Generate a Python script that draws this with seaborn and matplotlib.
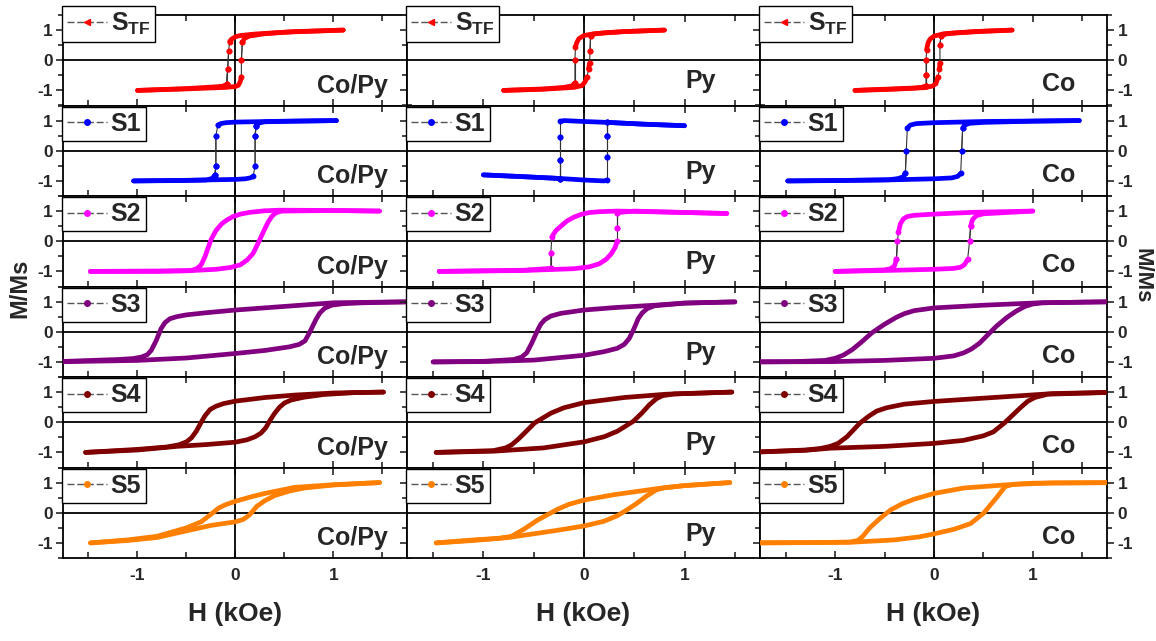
import numpy as np
import pandas as pd
import matplotlib
matplotlib.use("Agg")
import matplotlib.pyplot as plt
from matplotlib.lines import Line2D
from matplotlib.ticker import MultipleLocator
import seaborn as sns

# ---------------- data (H in kOe, M/Ms) ----------------
samples = ["STF", "S1", "S2", "S3", "S4", "S5"]
legend_labels = [r"$\mathbf{S_{TF}}$", "S1", "S2", "S3", "S4", "S5"]
layers = ["Co/Py", "Py", "Co"]
sample_colors = ["#FF0000", "#0000FF", "#FF00FF", "#800080", "#800000", "#FF8000"]
x_ticks = [-1, 0, 1]
x_tick_labels = ["-1", "0", "1"]
y_ticks = [-1, 0, 1]
y_tick_labels = ["-1", "0", "1"]

# descending (upper) branches: from +H to -H
STF_DESC = {
    "Co/Py": [(1.1, 1.0), (0.5, 0.93), (0.2, 0.87), (0.05, 0.82), (0.0, 0.78), (-0.04, 0.7),
              (-0.06, 0.62), (-0.07, 0.3), (-0.08, -0.3), (-0.09, -0.8), (-0.13, -0.86),
              (-0.2, -0.88), (-0.5, -0.94), (-1.0, -1.0)],
    "Py": [(0.8, 1.0), (0.4, 0.95), (0.1, 0.88), (0.0, 0.82), (-0.05, 0.72), (-0.07, 0.6),
           (-0.085, 0.45), (-0.09, 0.0), (-0.09, -0.75), (-0.12, -0.85), (-0.2, -0.9),
           (-0.4, -0.95), (-0.8, -1.0)],
    "Co": [(0.79, 1.0), (0.4, 0.95), (0.1, 0.88), (0.0, 0.8), (-0.04, 0.7), (-0.06, 0.58),
           (-0.075, 0.35), (-0.08, 0.0), (-0.08, -0.5), (-0.08, -0.85), (-0.13, -0.9),
           (-0.2, -0.92), (-0.5, -0.96), (-0.8, -1.0)],
}
STF_ASC = {
    "Co/Py": [(-1.0, -1.0), (-0.5, -0.95), (-0.1, -0.9), (0.0, -0.87), (0.03, -0.83), (0.05, -0.7),
              (0.06, -0.55), (0.06, 0.0), (0.07, 0.6), (0.09, 0.72), (0.14, 0.8), (0.3, 0.88),
              (0.6, 0.95), (1.1, 1.0)],
    "Py": [(-0.8, -1.0), (-0.4, -0.96), (-0.1, -0.9), (-0.02, -0.84), (0.01, -0.72), (0.03, -0.55),
           (0.045, -0.3), (0.055, -0.1), (0.06, 0.3), (0.065, 0.8), (0.1, 0.87), (0.2, 0.91),
           (0.4, 0.95), (0.8, 1.0)],
    "Co": [(-0.8, -1.0), (-0.4, -0.96), (-0.1, -0.91), (-0.02, -0.86), (0.02, -0.78), (0.04, -0.55),
           (0.055, -0.3), (0.06, -0.1), (0.06, 0.5), (0.07, 0.8), (0.12, 0.87), (0.2, 0.9),
           (0.5, 0.96), (0.79, 1.0)],
}
S1_DESC = {
    "Co/Py": [(1.03, 1.0), (0.5, 0.98), (0.0, 0.95), (-0.1, 0.93), (-0.15, 0.9), (-0.18, 0.85),
              (-0.2, 0.5), (-0.2, -0.5), (-0.21, -0.82), (-0.24, -0.92), (-0.3, -0.97),
              (-0.6, -0.99), (-1.04, -1.0)],
    "Py": [(1.0, 0.83), (0.6, 0.88), (0.23, 0.94), (0.0, 0.97), (-0.2, 1.0), (-0.235, 0.97),
           (-0.235, 0.45), (-0.235, -0.3), (-0.235, -0.92), (-0.6, -0.86), (-1.0, -0.8)],
    "Co": [(1.47, 1.0), (0.5, 0.97), (0.0, 0.93), (-0.18, 0.9), (-0.24, 0.85), (-0.27, 0.75),
           (-0.28, 0.0), (-0.29, -0.75), (-0.31, -0.86), (-0.36, -0.92), (-0.45, -0.96),
           (-1.0, -0.99), (-1.48, -1.0)],
}
S1_ASC = {
    "Co/Py": [(-1.04, -1.0), (-0.5, -0.98), (0.0, -0.95), (0.1, -0.93), (0.15, -0.9), (0.18, -0.85),
              (0.2, -0.5), (0.2, 0.5), (0.21, 0.82), (0.24, 0.92), (0.3, 0.96), (0.6, 0.98),
              (1.03, 1.0)],
    "Py": [(-1.0, -0.8), (-0.6, -0.86), (-0.235, -0.92), (0.0, -0.97), (0.2, -1.0), (0.23, -0.97),
           (0.23, -0.2), (0.23, 0.5), (0.23, 0.94), (0.6, 0.88), (1.0, 0.83)],
    "Co": [(-1.48, -1.0), (-0.5, -0.97), (0.0, -0.93), (0.18, -0.9), (0.24, -0.85), (0.27, -0.75),
           (0.28, 0.0), (0.29, 0.75), (0.31, 0.85), (0.36, 0.91), (0.5, 0.94), (1.0, 0.98),
           (1.47, 1.0)],
}
S2_DESC = {
    "Co/Py": [(1.47, 1.0), (1.0, 1.02), (0.45, 1.03), (0.3, 1.01), (0.15, 0.96), (0.05, 0.9),
              (-0.03, 0.81), (-0.09, 0.7), (-0.14, 0.58), (-0.2, 0.35), (-0.25, 0.05),
              (-0.31, -0.5), (-0.35, -0.78), (-0.39, -0.9), (-0.45, -0.97), (-0.8, -1.0),
              (-1.48, -1.0)],
    "Py": [(1.42, 0.92), (0.8, 0.97), (0.33, 1.0), (0.15, 0.98), (0.05, 0.95), (-0.03, 0.89),
           (-0.1, 0.8), (-0.17, 0.67), (-0.23, 0.5), (-0.28, 0.35), (-0.32, 0.15), (-0.33, -0.4),
           (-0.33, -0.9), (-0.6, -0.96), (-1.44, -1.0)],
    "Co": [(1.0, 1.0), (0.4, 0.96), (0.0, 0.9), (-0.2, 0.86), (-0.27, 0.82), (-0.31, 0.74),
           (-0.34, 0.58), (-0.36, 0.3), (-0.37, 0.0), (-0.38, -0.6), (-0.4, -0.82),
           (-0.44, -0.91), (-0.5, -0.95), (-1.0, -1.0)],
}
S2_ASC = {
    "Co/Py": [(-1.48, -1.0), (-0.5, -0.98), (-0.2, -0.93), (-0.05, -0.87), (0.05, -0.78),
              (0.12, -0.62), (0.18, -0.4), (0.24, 0.0), (0.29, 0.35), (0.33, 0.62), (0.37, 0.82),
              (0.41, 0.94), (0.47, 1.0), (1.0, 1.02), (1.47, 1.0)],
    "Py": [(-1.44, -1.0), (-0.6, -0.97), (-0.1, -0.91), (0.05, -0.85), (0.15, -0.75), (0.22, -0.6),
           (0.27, -0.42), (0.31, -0.2), (0.33, 0.0), (0.33, 0.45), (0.33, 0.95), (0.5, 1.0),
           (0.8, 0.97), (1.42, 0.92)],
    "Co": [(-1.0, -1.0), (-0.5, -0.97), (0.0, -0.93), (0.2, -0.9), (0.27, -0.86), (0.31, -0.77),
           (0.34, -0.6), (0.36, 0.0), (0.37, 0.5), (0.39, 0.72), (0.43, 0.85), (0.5, 0.91),
           (1.0, 1.0)],
}
S3_DESC = {
    "Co/Py": [(1.9, 1.0), (1.0, 0.96), (0.5, 0.84), (0.0, 0.72), (-0.3, 0.63), (-0.5, 0.56),
              (-0.6, 0.5), (-0.67, 0.43), (-0.72, 0.3), (-0.76, 0.1), (-0.81, -0.3),
              (-0.86, -0.62), (-0.9, -0.76), (-0.96, -0.84), (-1.05, -0.89), (-1.2, -0.92),
              (-1.9, -1.0)],
    "Py": [(1.5, 0.99), (1.0, 0.95), (0.7, 0.88), (0.3, 0.8), (0.0, 0.72), (-0.23, 0.61),
           (-0.33, 0.52), (-0.39, 0.4), (-0.43, 0.25), (-0.46, 0.06), (-0.52, -0.38),
           (-0.57, -0.7), (-0.62, -0.84), (-0.7, -0.92), (-1.0, -0.98), (-1.5, -1.0)],
    "Co": [(1.9, 1.0), (1.07, 0.96), (0.5, 0.88), (0.0, 0.79), (-0.2, 0.7), (-0.3, 0.6),
           (-0.38, 0.48), (-0.5, 0.25), (-0.63, -0.04), (-0.74, -0.36), (-0.83, -0.6),
           (-0.92, -0.78), (-1.0, -0.88), (-1.1, -0.95), (-1.4, -0.99), (-1.9, -1.0)],
}
S3_ASC = {
    "Co/Py": [(-1.9, -1.0), (-1.0, -0.95), (-0.5, -0.87), (0.0, -0.72), (0.3, -0.62), (0.55, -0.5),
              (0.65, -0.42), (0.71, -0.3), (0.76, 0.0), (0.82, 0.4), (0.86, 0.62), (0.91, 0.78),
              (0.98, 0.88), (1.1, 0.93), (1.3, 0.96), (1.9, 1.0)],
    "Py": [(-1.5, -1.0), (-1.0, -0.99), (-0.5, -0.94), (0.0, -0.78), (0.2, -0.66), (0.33, -0.55),
           (0.4, -0.42), (0.45, -0.22), (0.49, 0.05), (0.54, 0.44), (0.58, 0.63), (0.63, 0.77),
           (0.7, 0.86), (1.0, 0.95), (1.5, 0.99)],
    "Co": [(-1.9, -1.0), (-1.03, -0.99), (-0.5, -0.95), (0.0, -0.88), (0.2, -0.8), (0.3, -0.7),
           (0.38, -0.57), (0.46, -0.38), (0.63, 0.18), (0.74, 0.48), (0.83, 0.68), (0.92, 0.84),
           (1.0, 0.92), (1.1, 0.96), (1.9, 1.0)],
}
S4_DESC = {
    "Co/Py": [(1.51, 1.0), (1.0, 0.97), (0.6, 0.9), (0.3, 0.82), (0.0, 0.7), (-0.12, 0.62),
              (-0.2, 0.53), (-0.26, 0.42), (-0.31, 0.22), (-0.35, 0.0), (-0.4, -0.3),
              (-0.45, -0.52), (-0.5, -0.65), (-0.58, -0.75), (-0.7, -0.82), (-1.0, -0.9),
              (-1.53, -1.0)],
    "Py": [(1.47, 1.0), (0.82, 0.93), (0.4, 0.82), (0.0, 0.65), (-0.2, 0.48), (-0.33, 0.3),
           (-0.49, -0.02), (-0.58, -0.32), (-0.65, -0.55), (-0.72, -0.75), (-0.78, -0.85),
           (-0.9, -0.94), (-1.47, -1.0)],
    "Co": [(1.9, 1.0), (1.2, 0.95), (0.6, 0.82), (0.0, 0.69), (-0.3, 0.6), (-0.48, 0.48),
           (-0.58, 0.37), (-0.66, 0.2), (-0.75, -0.03), (-0.88, -0.48), (-0.97, -0.7),
           (-1.05, -0.8), (-1.15, -0.87), (-1.3, -0.92), (-1.9, -1.0)],
}
S4_ASC = {
    "Co/Py": [(-1.53, -1.0), (-1.0, -0.92), (-0.6, -0.8), (-0.3, -0.74), (0.0, -0.66), (0.12, -0.58),
              (0.2, -0.48), (0.26, -0.36), (0.31, -0.18), (0.35, 0.05), (0.4, 0.3), (0.45, 0.5),
              (0.5, 0.64), (0.57, 0.74), (0.7, 0.83), (0.9, 0.92), (1.2, 0.98), (1.51, 1.0)],
    "Py": [(-1.47, -1.0), (-0.9, -0.96), (-0.4, -0.85), (0.0, -0.65), (0.2, -0.48), (0.33, -0.3),
           (0.49, 0.03), (0.58, 0.32), (0.65, 0.58), (0.72, 0.78), (0.78, 0.88), (0.9, 0.94),
           (1.47, 1.0)],
    "Co": [(-1.9, -1.0), (-1.3, -0.93), (-1.05, -0.86), (-0.5, -0.8), (0.0, -0.7), (0.3, -0.6),
           (0.5, -0.45), (0.6, -0.32), (0.71, -0.03), (0.8, 0.25), (0.88, 0.5), (0.95, 0.7),
           (1.02, 0.82), (1.15, 0.93), (1.9, 1.0)],
}
S5_DESC = {
    "Co/Py": [(1.47, 1.0), (1.0, 0.93), (0.6, 0.84), (0.3, 0.64), (0.15, 0.52), (0.0, 0.38),
              (-0.1, 0.27), (-0.17, 0.16), (-0.25, -0.05), (-0.35, -0.3), (-0.5, -0.5),
              (-0.8, -0.78), (-1.1, -0.9), (-1.48, -1.0)],
    "Py": [(1.45, 1.0), (1.0, 0.9), (0.75, 0.81), (0.3, 0.6), (0.0, 0.42), (-0.15, 0.28),
           (-0.26, 0.12), (-0.36, -0.06), (-0.46, -0.24), (-0.6, -0.55), (-0.72, -0.78),
           (-0.85, -0.85), (-1.1, -0.9), (-1.47, -1.0)],
    "Co": [(1.9, 1.0), (1.0, 0.98), (0.75, 0.93), (0.3, 0.82), (0.0, 0.64), (-0.2, 0.45),
           (-0.32, 0.3), (-0.44, 0.09), (-0.55, -0.2), (-0.65, -0.5), (-0.72, -0.78),
           (-0.77, -0.92), (-0.85, -0.97), (-1.2, -0.99), (-1.9, -1.0)],
}
S5_ASC = {
    "Co/Py": [(-1.48, -1.0), (-1.1, -0.92), (-0.8, -0.82), (-0.5, -0.6), (-0.25, -0.42), (0.0, -0.3),
              (0.08, -0.22), (0.14, -0.08), (0.22, 0.22), (0.3, 0.4), (0.4, 0.57), (0.55, 0.72),
              (0.7, 0.82), (1.0, 0.92), (1.47, 1.0)],
    "Py": [(-1.47, -1.0), (-1.1, -0.92), (-0.75, -0.82), (-0.3, -0.6), (0.0, -0.44), (0.2, -0.28),
           (0.33, -0.1), (0.42, 0.08), (0.52, 0.3), (0.62, 0.55), (0.72, 0.76), (0.8, 0.83),
           (1.0, 0.9), (1.45, 1.0)],
    "Co": [(-1.9, -1.0), (-0.85, -0.98), (-0.4, -0.9), (-0.15, -0.8), (0.0, -0.7), (0.2, -0.55),
           (0.37, -0.36), (0.5, -0.02), (0.64, 0.53), (0.72, 0.87), (0.8, 0.94), (1.2, 0.99),
           (1.9, 1.0)],
}
DESC = [STF_DESC, S1_DESC, S2_DESC, S3_DESC, S4_DESC, S5_DESC]
ASC = [STF_ASC, S1_ASC, S2_ASC, S3_ASC, S4_ASC, S5_ASC]

# ---------------- style ----------------
sns.set_theme(style="ticks")
plt.rcParams["font.family"] = ["Liberation Sans", "DejaVu Sans"]
plt.rcParams["font.weight"] = "bold"
plt.rcParams["axes.unicode_minus"] = False
plt.rcParams["mathtext.fontset"] = "custom"
plt.rcParams["mathtext.bf"] = "Liberation Sans:bold"
plt.rcParams["mathtext.rm"] = "Liberation Sans:bold"

fig = plt.figure(figsize=(11.56, 6.41), dpi=100)
gs = fig.add_gridspec(6, 3, left=63 / 1156, right=1107 / 1156, top=1 - 15 / 641, bottom=1 - 558 / 641,
                      wspace=0, hspace=0, width_ratios=[344, 353, 347])

XLIM = (-1.76, 1.75)
label_x = [0.945, 0.875, 0.908]
label_y = [0.14, 0.19, 0.16]


def draw_branch(ax, pts, color):
    df = pd.DataFrame(pts, columns=["H", "M"])
    h = df["H"].to_numpy()
    m = df["M"].to_numpy()
    dh = np.abs(np.diff(h))
    dm = np.abs(np.diff(m))
    jump = (dm > 0.25) & (dm > 15 * dh)
    start = 0
    for i in range(len(jump) + 1):
        if i == len(jump) or jump[i]:
            seg = df.iloc[start:i + 1]
            if len(seg) > 1:
                sns.lineplot(data=seg, x="H", y="M", sort=False, estimator=None, color=color,
                             lw=3.4, ax=ax, legend=False, solid_capstyle="round",
                             solid_joinstyle="round", zorder=3)
            start = i + 1
            if i < len(jump):
                j0 = i
                j1 = i + 1
                while j1 < len(jump) and jump[j1]:
                    j1 += 1
                seg = df.iloc[j0:j1 + 1]
                sns.lineplot(data=seg, x="H", y="M", sort=False, estimator=None, color="#333333",
                             lw=0.8, ax=ax, legend=False, zorder=3)
                ax.plot(seg["H"], seg["M"], ls="none", marker="o", ms=3.2, color=color, zorder=4)


for r in range(6):
    for c in range(3):
        ax = fig.add_subplot(gs[r, c])
        layer = layers[c]
        color = sample_colors[r]
        ax.axhline(0, color="black", lw=1.3, zorder=2)
        ax.axvline(0, color="black", lw=1.3, zorder=2)
        draw_branch(ax, DESC[r][layer], color)
        draw_branch(ax, ASC[r][layer], color)

        ax.set_xlim(*XLIM)
        ax.set_ylim(-1.5, 1.5)
        ax.set_xticks(x_ticks)
        ax.xaxis.set_minor_locator(MultipleLocator(0.5))
        ax.set_yticks(y_ticks)
        ax.yaxis.set_minor_locator(MultipleLocator(0.5))
        ax.tick_params(axis="x", which="both", direction="in", top=True, bottom=True,
                       width=1.2, labelsize=12.5, pad=7)
        ax.tick_params(axis="x", which="major", length=5)
        ax.tick_params(axis="x", which="minor", length=4)
        ax.tick_params(axis="y", which="both", direction="out", left=True, right=True,
                       width=1.2, labelsize=12.5, pad=2.5)
        ax.tick_params(axis="y", which="major", length=5)
        ax.tick_params(axis="y", which="minor", length=3.5)
        for sp in ax.spines.values():
            sp.set_linewidth(1.3)
            sp.set_color("black")

        if r == 5:
            ax.set_xticklabels(x_tick_labels, fontweight="bold")
            ax.set_xlabel("H (kOe)", fontsize=19, fontweight="bold", labelpad=14)
        else:
            ax.set_xticklabels([])
            ax.set_xlabel("")
        if c == 0:
            ax.set_yticklabels(y_tick_labels, fontweight="bold")
            ax.tick_params(axis="y", labelleft=True, labelright=False)
        elif c == 2:
            ax.tick_params(axis="y", labelleft=False, labelright=True)
            ax.set_yticklabels(y_tick_labels, fontweight="bold")
        else:
            ax.set_yticklabels([])
        ax.set_ylabel("")

        ax.text(label_x[c], label_y[c], layer, transform=ax.transAxes, ha="right", va="baseline",
                fontsize=18, fontweight="bold", zorder=5)

        marker = "<" if r == 0 else "o"
        handle = Line2D([], [], color="#555555", lw=1.0, ls=(0, (5, 2)), marker=marker, ms=4,
                        markerfacecolor=color, markeredgecolor=color)
        anchor_y = 1.1 if r == 0 else 0.985
        leg = ax.legend(handles=[handle], labels=[legend_labels[r]], loc="upper left",
                        bbox_to_anchor=(-0.003, anchor_y), frameon=True, fancybox=False,
                        edgecolor="black", framealpha=1, borderpad=0.2, borderaxespad=0,
                        handlelength=1.6, handletextpad=0.15,
                        prop={"size": 18, "weight": "bold"})
        leg.get_frame().set_linewidth(1.0)
        leg.set_zorder(10)

fig.text(0.017, 0.55, "M/Ms", rotation=90, ha="center", va="center", fontsize=17, fontweight="bold")
fig.text(0.979, 0.57, "M/Ms", rotation=270, ha="left", va="center", fontsize=16, fontweight="bold")

fig.savefig("out.png", dpi=100)
